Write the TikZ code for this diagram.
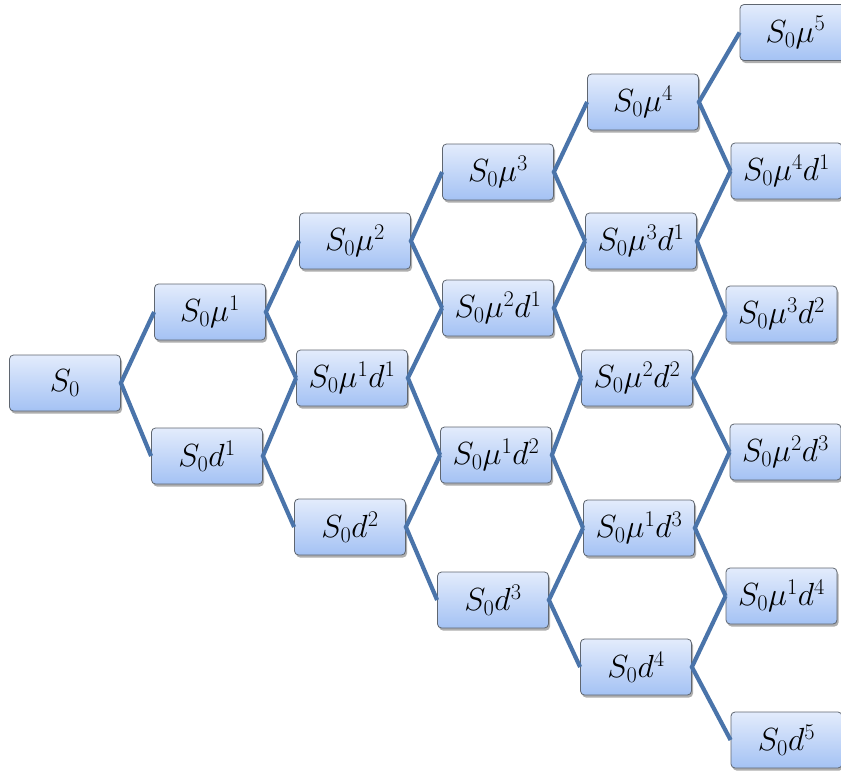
\RequirePackage{fix-cm}
\documentclass[tikz,border=0pt]{standalone}
\usetikzlibrary{shadows}
\definecolor{boxtop}{HTML}{E3ECFC}
\definecolor{boxbot}{HTML}{A4C2F4}
\definecolor{boxedge}{HTML}{5F6670}
\definecolor{linkblue}{HTML}{4A74AA}
\tikzset{
  state/.style={draw=boxedge, line width=0.8pt, rounded corners=4pt,
    top color=boxtop, bottom color=boxbot,
    minimum width=111pt, minimum height=56pt, inner sep=0pt,
    font=\fontsize{32}{36}\selectfont,
    drop shadow={shadow xshift=1.5pt, shadow yshift=-2.5pt, opacity=0.45, fill=black!70}},
  link/.style={draw=linkblue, line width=4.2pt}
}
\begin{document}
\begin{tikzpicture}[x=1pt, y=-1pt]
\useasboundingbox (0,0) rectangle (841,771);
% stage 0
\node[state] (s0) at (65,383) {$S_0$};
% stage 1
\node[state] (u1) at (210,312) {$S_0\mu^1$};
\node[state] (d1) at (207,456) {$S_0d^1$};
% stage 2
\node[state] (u2)   at (355,241) {$S_0\mu^2$};
\node[state] (u1d1) at (352,378) {$S_0\mu^1d^1$};
\node[state] (d2)   at (350,527) {$S_0d^2$};
% stage 3
\node[state] (u3)   at (498,172) {$S_0\mu^3$};
\node[state] (u2d1) at (498,308) {$S_0\mu^2d^1$};
\node[state] (u1d2) at (496,455) {$S_0\mu^1d^2$};
\node[state] (d3)   at (493,600) {$S_0d^3$};
% stage 4
\node[state] (u4)   at (643,102) {$S_0\mu^4$};
\node[state] (u3d1) at (641,241) {$S_0\mu^3d^1$};
\node[state] (u2d2) at (637,378) {$S_0\mu^2d^2$};
\node[state] (u1d3) at (639,528) {$S_0\mu^1d^3$};
\node[state] (d4)   at (636,667) {$S_0d^4$};
% stage 5
\node[state] (u5)   at (795.5,32.5) {$S_0\mu^5$};
\node[state] (u4d1) at (786.5,171)  {$S_0\mu^4d^1$};
\node[state] (u3d2) at (781.5,314)  {$S_0\mu^3d^2$};
\node[state] (u2d3) at (785.5,452)  {$S_0\mu^2d^3$};
\node[state] (u1d4) at (781.5,596)  {$S_0\mu^1d^4$};
\node[state] (d5)   at (786.5,740)  {$S_0d^5$};
% branches: each state splits into an up and a down move
\foreach \a/\b/\c in {s0/u1/d1,
  u1/u2/u1d1, d1/u1d1/d2,
  u2/u3/u2d1, u1d1/u2d1/u1d2, d2/u1d2/d3,
  u3/u4/u3d1, u2d1/u3d1/u2d2, u1d2/u2d2/u1d3, d3/u1d3/d4,
  u4/u5/u4d1, u3d1/u4d1/u3d2, u2d2/u3d2/u2d3, u1d3/u2d3/u1d4, d4/u1d4/d5}
{
  \draw[link] (\b.west) -- (\a.east) -- (\c.west);
}
\end{tikzpicture}
\end{document}
